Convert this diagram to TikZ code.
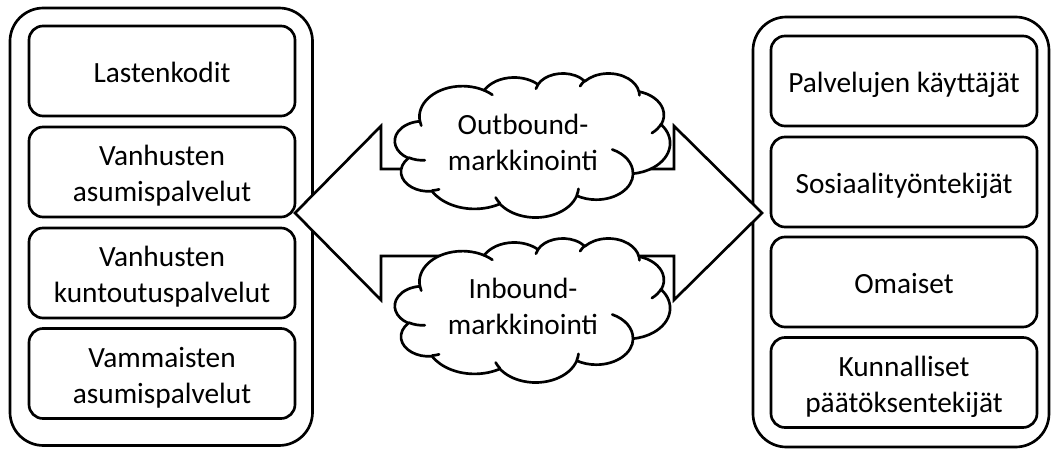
\documentclass[tikz,border=0pt]{standalone}
\usepackage{fontspec}
\setmainfont{Carlito}
% uniform line strut so that one- and two-line labels sit alike
\newcommand\tstrut{\rule[-4.2pt]{0pt}{25.9pt}}
% elliptical arc given by radii and visual start/sweep angles (DrawingML arcTo);
% radii are scaled by \cloudxu / \cloudyu and drawn in the y-down cloud frame
\tikzset{
  oarc/.code args={#1/#2/#3/#4}{%
    \pgfmathsetmacro\oarcS{atan2((#1)*sin(#3),(#2)*cos(#3))}%
    \pgfmathsetmacro\oarcE{atan2((#1)*sin((#3)+(#4)),(#2)*cos((#3)+(#4)))}%
    \pgfmathsetmacro\oarcD{\oarcE-\oarcS}%
    \ifdim #4pt>0pt
      \ifdim \oarcD pt<0pt \pgfmathsetmacro\oarcD{\oarcD+360}\fi
    \else
      \ifdim \oarcD pt>0pt \pgfmathsetmacro\oarcD{\oarcD-360}\fi
    \fi
    \pgfmathsetmacro\oarcRX{(#1)*\cloudxu}%
    \pgfmathsetmacro\oarcRY{(#2)*\cloudyu}%
    \pgfmathsetmacro\oarcSn{-\oarcS}%
    \pgfmathsetmacro\oarcDn{-\oarcD}%
    \edef\oarcKeys{\noexpand\tikzset{x radius=\oarcRX pt,y radius=\oarcRY pt,start angle=\oarcSn,delta angle=\oarcDn}}%
    \oarcKeys}
}
% cloud outline in a 432 x 432 frame, placed at (#1,#2) with size #3 x #4 (pixels)
\newcommand\officecloud[4]{%
  \pgfmathsetmacro\cloudxu{0.75*#3/432}%
  \pgfmathsetmacro\cloudyu{0.75*#4/432}%
  \begin{scope}[shift={(#1,#2)}, x=\cloudxu pt, y=-\cloudyu pt]
    \draw[outline, fill=white, line join=round] (39.00,143.70)
      arc[oarc=67.53/91.90/-190.4875/123.7805]
      arc[oarc=53.33/72.67/-144.1024/89.9452]
      arc[oarc=43.65/59.45/-145.8079/99.7230]
      arc[oarc=48.57/65.95/-130.9861/117.2417]
      arc[oarc=53.33/72.73/-78.7089/109.0269]
      arc[oarc=67.75/92.20/-46.2673/130.2690]
      arc[oarc=57.85/78.67/0.6250/114.0333]
      arc[oarc=67.52/92.15/22.4516/115.1726]
      arc[oarc=77.20/105.43/66.2426/75.7110]
      arc[oarc=43.60/59.18/-274.9421/146.7356]
      arc[oarc=43.45/59.45/-246.8285/152.5189]
      -- cycle;
    \draw[outline, line cap=round]
      (46.93,261.77) arc[oarc=43.45/59.45/86.7420/26.4295]
      (69.28,348.99) arc[oarc=43.60/59.18/73.6105/11.4475]
      (164.78,390.90) arc[oarc=67.52/92.15/137.6242/14.0811]
      (288.27,347.51) arc[oarc=67.52/92.15/6.4533/15.9984]
      (341.29,229.54) arc[oarc=57.85/78.67/-70.2924/70.9174]
      (417.98,153.54) arc[oarc=53.33/72.73/30.3180/27.7515]
      (383.24,54.26) arc[oarc=48.57/65.95/-13.7443/14.8589]
      (290.78,39.52) arc[oarc=48.57/65.95/-149.1815/18.1954]
      (221.41,47.20) arc[oarc=43.65/59.45/-163.4943/17.6864]
      (140.00,51.92) arc[oarc=67.53/91.90/-66.7070/12.3194]
      (41.27,157.89) arc[oarc=67.53/91.90/157.6544/11.8582];
  \end{scope}}
\begin{document}
\begin{tikzpicture}[x=0.75pt, y=-0.75pt,
  outline/.style={draw=black, line width=2pt},
  label/.style={font=\fontsize{22}{25.5}\selectfont, align=center, inner sep=0pt},
  panel/.style={outline, rectangle, rounded corners=25pt, inner sep=0pt},
  item/.style={outline, label, rectangle, rounded corners=10.5pt, fill=white,
    minimum width=199.5pt, minimum height=67.5pt},
  cloudtext/.style={label}
]
\useasboundingbox (0,0) rectangle (1051,452);

% outer containers
\node[panel, minimum width=226.9pt, minimum height=328.1pt] (providers) at (161.25,226.75) {};
\node[panel, minimum width=222pt, minimum height=322.5pt] (audience) at (901,232) {};

% service units
\node[item] (l1) at (162,71)    {\tstrut Lastenkodit};
\node[item] (l2) at (162,172)   {\tstrut Vanhusten\\\tstrut asumispalvelut};
\node[item] (l3) at (162,273)   {\tstrut Vanhusten\\\tstrut kuntoutuspalvelut};
\node[item] (l4) at (162,373.5) {\tstrut Vammaisten\\\tstrut asumispalvelut};

% target groups
\node[item] (r1) at (904,81)    {\tstrut Palvelujen käyttäjät};
\node[item] (r2) at (904,182)   {\tstrut Sosiaalityöntekijät};
\node[item] (r3) at (904,282)   {\tstrut Omaiset};
\node[item] (r4) at (904,382.5) {\tstrut Kunnalliset\\\tstrut päätöksentekijät};

% two-way block arrow between the containers
\draw[outline, fill=white] (295,213) -- (381,126) -- (381,169) -- (674,169)
  -- (674,126) -- (762,213) -- (674,300) -- (674,256) -- (381,256)
  -- (381,300) -- cycle;

% marketing clouds
\officecloud{395}{73}{275}{144}
\node[cloudtext] (outbound) at (523,140.5) {\tstrut Outbound-\\\tstrut markkinointi};
\officecloud{395}{238}{275}{144}
\node[cloudtext] (inbound) at (523,304.5) {\tstrut Inbound-\\\tstrut markkinointi};
\end{tikzpicture}
\end{document}
